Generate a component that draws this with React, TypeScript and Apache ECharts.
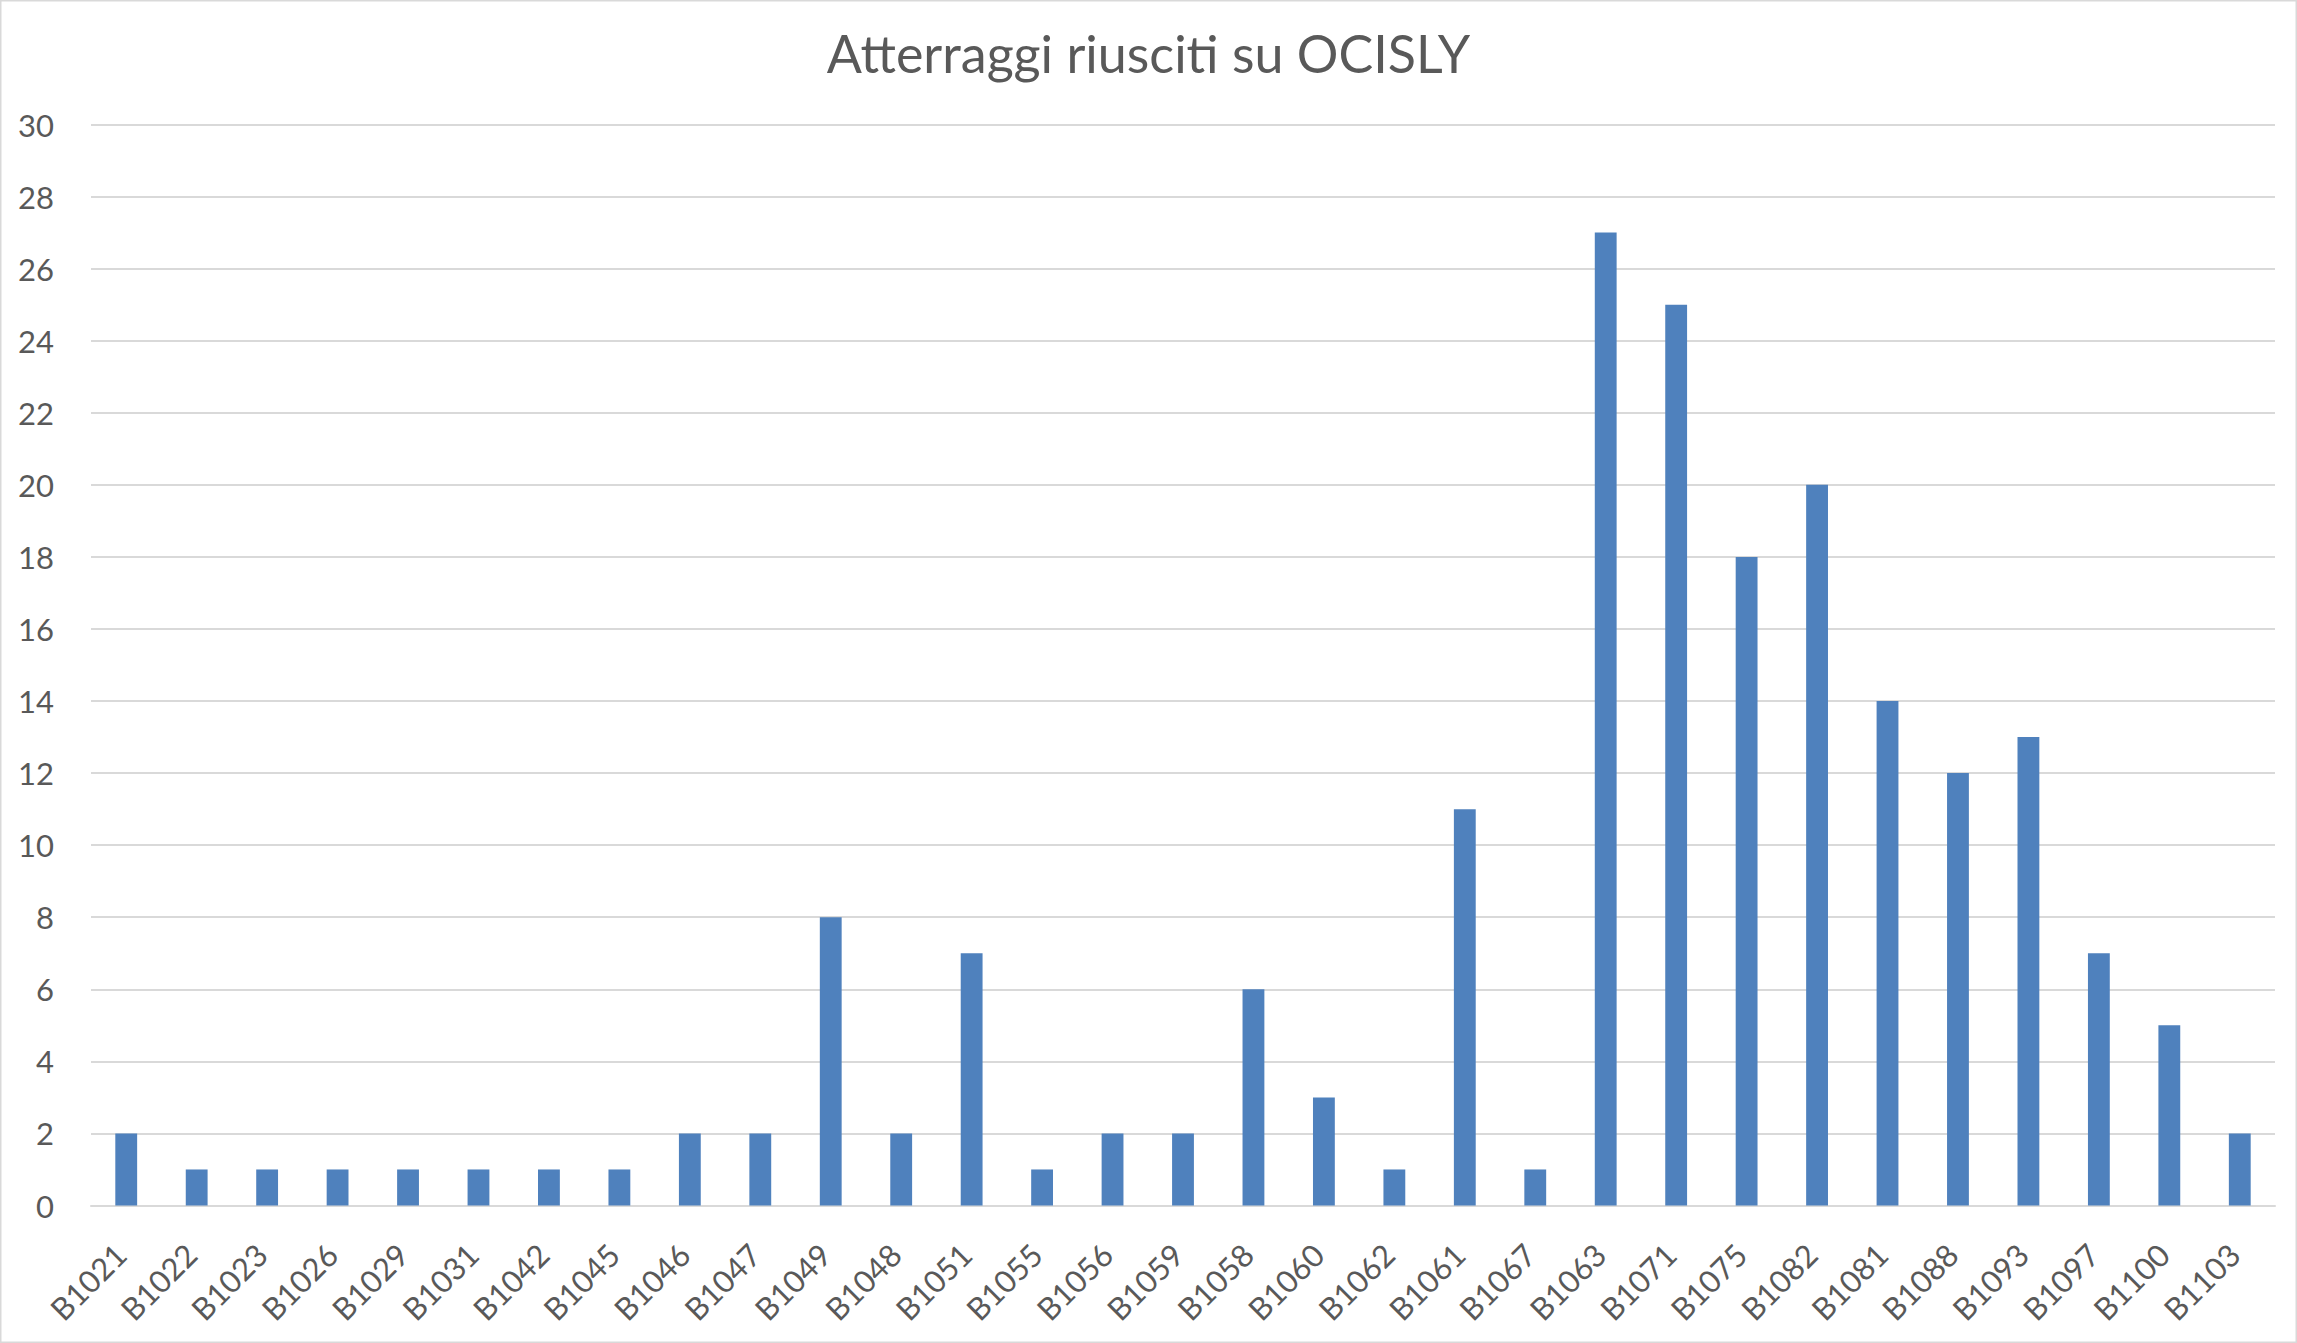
import React, { useEffect, useRef } from "react";
import * as echarts from "echarts";

const categories = [
  "B1021", "B1022", "B1023", "B1026", "B1029", "B1031", "B1042", "B1045",
  "B1046", "B1047", "B1049", "B1048", "B1051", "B1055", "B1056", "B1059",
  "B1058", "B1060", "B1062", "B1061", "B1067", "B1063", "B1071", "B1075",
  "B1082", "B1081", "B1088", "B1093", "B1097", "B1100", "B1103",
];
const landings = [
  2, 1, 1, 1, 1, 1, 1, 1, 2, 2, 8, 2, 7, 1, 2, 2, 6, 3, 1, 11, 1, 27, 25, 18,
  20, 14, 12, 13, 7, 5, 2,
];
const titleText = "Atterraggi riusciti su OCISLY";

export default function App() {
  const ref = useRef<HTMLDivElement>(null);
  useEffect(() => {
    document.body.style.margin = "0";
    if (!ref.current) return;
    const chart = echarts.init(ref.current, undefined, { renderer: "svg" });
    const font = "Lato, 'Noto Sans', sans-serif";
    chart.setOption({
      animation: false,
      backgroundColor: "#ffffff",
      title: {
        text: titleText,
        left: "center",
        top: 22,
        textStyle: { fontFamily: font, fontSize: 52, fontWeight: "normal", color: "#595959" },
      },
      grid: { left: 91, right: 22, top: 124.5, bottom: 137.5, containLabel: false },
      xAxis: {
        type: "category",
        data: categories,
        axisLine: { lineStyle: { color: "#D9D9D9", width: 2 } },
        axisTick: { show: false },
        axisLabel: {
          rotate: 45,
          interval: 0,
          margin: 38,
          padding: [0, 8, 0, 0],
          fontFamily: font,
          fontSize: 31,
          color: "#595959",
        },
      },
      yAxis: {
        type: "value",
        min: 0,
        max: 30,
        interval: 2,
        axisLine: { show: false },
        axisTick: { show: false },
        splitLine: { lineStyle: { color: "#D9D9D9", width: 2 } },
        axisLabel: { margin: 37, fontFamily: font, fontSize: 31, color: "#595959" },
      },
      series: [
        {
          type: "bar",
          data: landings,
          barCategoryGap: "69%",
          itemStyle: { color: "#4F81BD" },
        },
      ],
      graphic: [
        {
          type: "rect",
          shape: { x: 0.5, y: 0.5, width: 2296, height: 1342 },
          style: { fill: "none", stroke: "#D9D9D9", lineWidth: 2 },
          silent: true,
        },
      ],
    });
    return () => chart.dispose();
  }, []);
  return <div ref={ref} style={{ width: 2297, height: 1343 }} />;
}
